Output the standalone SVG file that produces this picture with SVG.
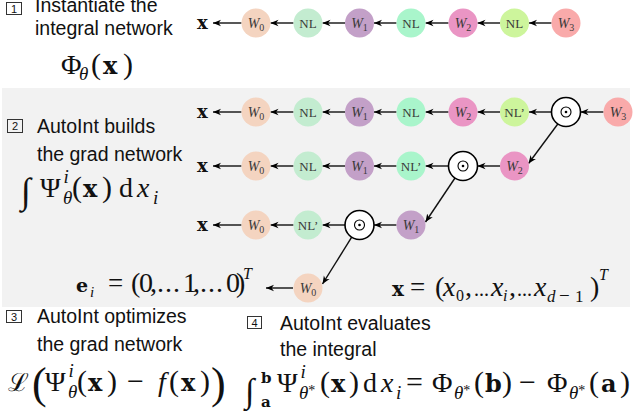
<svg xmlns="http://www.w3.org/2000/svg" width="633" height="417" viewBox="0 0 633 417">
<defs>
<marker id="ah" viewBox="0 0 10 10" refX="10" refY="5" markerWidth="8" markerHeight="8" markerUnits="userSpaceOnUse" orient="auto">
<path d="M0,0.8 L10,5 L0,9.2 L3,5 z" fill="#000"/>
</marker>
<style>
.lab{font-family:"Liberation Sans",Arial,sans-serif;font-size:19.5px;fill:#111}
.num{font-family:"Liberation Sans",Arial,sans-serif;font-size:11px;fill:#111;text-anchor:middle}
.box{fill:none;stroke:#333;stroke-width:1}
.m{font-family:"Liberation Serif","Times New Roman",serif;font-size:28px;fill:#111}
.bd{font-family:"DejaVu Serif",serif;font-weight:bold}
.i{font-style:italic}
.lbl{font-family:"Liberation Serif","Times New Roman",serif;font-size:14px;fill:#3a3a3a;text-anchor:middle}
.nl{font-size:13px}
.xl{font-family:"DejaVu Serif",serif;font-weight:bold;font-size:18px;fill:#111}
.c{stroke:#111;stroke-width:1.4;fill:none;marker-end:url(#ah)}
.od{fill:#fff;stroke:#000;stroke-width:1.6}
.odi{fill:none;stroke:#000;stroke-width:1.1}
.w0{fill:#f4d4c0}.nla{fill:#c3ecd0}.w1{fill:#c3a0c8}.nlb{fill:#a9f5cb}.w2{fill:#ea95c4}.nlc{fill:#cdf59c}.w3{fill:#f9aaaa}
</style>
</defs>
<rect x="0" y="0" width="633" height="417" fill="#fff"/>
<rect x="2" y="88" width="628" height="219" fill="#f2f2f2"/>

<!-- section texts -->
<g id="sec1">
<rect class="box" x="6.5" y="2.5" width="15" height="12"/>
<text class="num" x="14" y="12.5">1</text>
<text class="lab" x="35" y="12">Instantiate the</text>
<text class="lab" x="35" y="35">integral network</text>
<text class="m" y="74"><tspan x="61">Φ</tspan><tspan class="i" font-size="19" x="79" y="80">θ</tspan><tspan x="91" y="74" font-size="30">(</tspan><tspan class="bd" font-size="24" x="103">x</tspan><tspan x="123" font-size="30">)</tspan></text>
</g>
<g id="sec2">
<rect class="box" x="7.5" y="119.5" width="15" height="13"/>
<text class="num" x="15" y="130">2</text>
<text class="lab" x="37" y="133">AutoInt builds</text>
<text class="lab" x="37" y="161">the grad network</text>
<text class="m" y="197"><tspan x="21" font-size="36" y="203">∫</tspan><tspan x="40" y="197">Ψ</tspan><tspan class="i" font-size="19" x="63.5" y="183">i</tspan><tspan class="i" font-size="19" x="63" y="204">θ</tspan><tspan x="72" y="197" font-size="30">(</tspan><tspan class="bd" font-size="24" x="83">x</tspan><tspan x="102" font-size="30">)</tspan><tspan x="119">d</tspan><tspan class="i" x="137">x</tspan><tspan class="i" font-size="19" x="153" y="204">i</tspan></text>
</g>
<g id="sec3">
<rect class="box" x="6.5" y="310.5" width="15" height="12"/>
<text class="num" x="14" y="320.5">3</text>
<text class="lab" x="37" y="323">AutoInt optimizes</text>
<text class="lab" x="37" y="351">the grad network</text>
<text class="m" y="391"><tspan x="8" font-family="DejaVu Serif,serif" font-size="25">ℒ</tspan><tspan x="32" y="398" font-size="44">(</tspan><tspan x="45" y="391">Ψ</tspan><tspan class="i" font-size="19" x="68.5" y="377">i</tspan><tspan class="i" font-size="19" x="68" y="398">θ</tspan><tspan x="77" y="391" font-size="30">(</tspan><tspan class="bd" font-size="24" x="88">x</tspan><tspan x="107" font-size="30">)</tspan><tspan x="127" font-size="30">−</tspan><tspan class="i" x="158">f</tspan><tspan x="169" font-size="30">(</tspan><tspan class="bd" font-size="24" x="181">x</tspan><tspan x="200" font-size="30">)</tspan><tspan x="211" y="398" font-size="44">)</tspan></text>
</g>
<g id="sec4">
<rect class="box" x="247.5" y="316.5" width="14" height="12"/>
<text class="num" x="254.5" y="326.5">4</text>
<text class="lab" x="280" y="330">AutoInt evaluates</text>
<text class="lab" x="280" y="356">the integral</text>
<text class="m" y="392"><tspan x="245" font-size="34" y="402">∫</tspan><tspan class="bd" font-size="15" x="261" y="383">b</tspan><tspan class="bd" font-size="15" x="261" y="407">a</tspan><tspan x="277" y="392">Ψ</tspan><tspan class="i" font-size="19" x="300.5" y="378">i</tspan><tspan class="i" font-size="19" x="299" y="399">θ</tspan><tspan font-size="14" dy="-4">*</tspan><tspan x="320" y="392" font-size="30">(</tspan><tspan class="bd" font-size="24" x="331">x</tspan><tspan x="349" font-size="30">)</tspan><tspan x="363">d</tspan><tspan class="i" x="381">x</tspan><tspan class="i" font-size="19" x="396" y="399">i</tspan><tspan x="406" y="392" font-size="30">=</tspan><tspan x="432">Φ</tspan><tspan class="i" font-size="19" x="454" y="399">θ</tspan><tspan font-size="14" dy="-4">*</tspan><tspan x="474" y="392" font-size="30">(</tspan><tspan class="bd" font-size="24" x="485">b</tspan><tspan x="502" font-size="30">)</tspan><tspan x="519" font-size="30">−</tspan><tspan x="547">Φ</tspan><tspan class="i" font-size="19" x="569" y="399">θ</tspan><tspan font-size="14" dy="-4">*</tspan><tspan x="589" y="392" font-size="30">(</tspan><tspan class="bd" font-size="24" x="601">a</tspan><tspan x="620" font-size="30">)</tspan></text>
</g>

<!-- x labels and vectors -->
<g id="xlabels">
<text class="xl" x="197" y="29">x</text>
<text class="xl" x="197" y="118">x</text>
<text class="xl" x="197" y="172">x</text>
<text class="xl" x="197" y="231">x</text>
<text class="m" font-size="24" y="292"><tspan class="bd" font-size="19" x="76">e</tspan><tspan class="i" font-size="15" x="90" y="297">i</tspan><tspan x="108" y="292" font-size="27">=</tspan><tspan x="131">(</tspan><tspan x="139">0</tspan><tspan x="150">,</tspan><tspan x="157">.</tspan><tspan x="165">.</tspan><tspan x="173">.</tspan><tspan x="183">1</tspan><tspan x="193">,</tspan><tspan x="200">.</tspan><tspan x="208">.</tspan><tspan x="216">.</tspan><tspan x="226">0</tspan><tspan x="236">)</tspan><tspan class="i" font-size="16" x="243" y="279">T</tspan></text>
<text class="m" font-size="24" y="296"><tspan class="bd" font-size="20" x="392">x</tspan><tspan x="410" font-size="27">=</tspan><tspan x="435">(</tspan><tspan class="i" x="443">x</tspan><tspan font-size="16" x="456" y="301">0</tspan><tspan x="465" y="296">,</tspan><tspan x="474" font-size="20">...</tspan><tspan class="i" x="491">x</tspan><tspan class="i" font-size="16" x="503" y="301">i</tspan><tspan x="509" y="296">,</tspan><tspan x="517" font-size="20">...</tspan><tspan class="i" x="534">x</tspan><tspan class="i" font-size="17" x="547" y="302">d</tspan><tspan font-size="19" x="559">−</tspan><tspan font-size="17" x="575">1</tspan><tspan x="590" y="296">)</tspan><tspan class="i" font-size="16" x="599" y="280">T</tspan></text>
</g>

<!-- connectors -->
<g id="connectors">
<line class="c" x1="241.5" y1="23" x2="213" y2="23"/>
<line class="c" x1="293.5" y1="23" x2="270.5" y2="23"/>
<line class="c" x1="345" y1="23" x2="322.5" y2="23"/>
<line class="c" x1="396.5" y1="23" x2="374" y2="23"/>
<line class="c" x1="448.5" y1="23" x2="425.5" y2="23"/>
<line class="c" x1="500" y1="23" x2="477.5" y2="23"/>
<line class="c" x1="551.5" y1="23" x2="529" y2="23"/>

<line class="c" x1="241.5" y1="112" x2="213" y2="112"/>
<line class="c" x1="293.5" y1="112" x2="270.5" y2="112"/>
<line class="c" x1="345" y1="112" x2="322.5" y2="112"/>
<line class="c" x1="396.5" y1="112" x2="374" y2="112"/>
<line class="c" x1="448.5" y1="112" x2="425.5" y2="112"/>
<line class="c" x1="500" y1="112" x2="477.5" y2="112"/>
<line class="c" x1="551.5" y1="112" x2="529" y2="112"/>
<line class="c" x1="603.5" y1="112" x2="580.5" y2="112"/>
<line class="c" x1="557.8" y1="124" x2="528.5" y2="163.5"/>

<line class="c" x1="241.5" y1="166" x2="213" y2="166"/>
<line class="c" x1="293.5" y1="166" x2="270.5" y2="166"/>
<line class="c" x1="345" y1="166" x2="322.5" y2="166"/>
<line class="c" x1="396.5" y1="166" x2="374" y2="166"/>
<line class="c" x1="448.5" y1="166" x2="425.5" y2="166"/>
<line class="c" x1="500" y1="166" x2="477.5" y2="166"/>
<line class="c" x1="455" y1="178" x2="425.5" y2="222"/>

<line class="c" x1="241.5" y1="225" x2="213" y2="225"/>
<line class="c" x1="293.5" y1="225" x2="270.5" y2="225"/>
<line class="c" x1="345" y1="225" x2="322.5" y2="225"/>
<line class="c" x1="396.5" y1="225" x2="374" y2="225"/>
<line class="c" x1="351.7" y1="237.2" x2="322.5" y2="284"/>

<line class="c" x1="293" y1="288" x2="266" y2="288"/>
</g>

<!-- row 1 -->
<g id="r1-w0"><circle class="w0" cx="256" cy="23" r="14.5"/><text class="lbl" x="256" y="28"><tspan class="i">W</tspan><tspan font-size="10" dy="3">0</tspan></text></g>
<g id="r1-nl1"><circle class="nla" cx="308" cy="23" r="14.5"/><text class="lbl nl" x="308" y="27.5">NL</text></g>
<g id="r1-w1"><circle class="w1" cx="359.5" cy="23" r="14.5"/><text class="lbl" x="359.5" y="28"><tspan class="i">W</tspan><tspan font-size="10" dy="3">1</tspan></text></g>
<g id="r1-nl2"><circle class="nlb" cx="411" cy="23" r="14.5"/><text class="lbl nl" x="411" y="27.5">NL</text></g>
<g id="r1-w2"><circle class="w2" cx="463" cy="23" r="14.5"/><text class="lbl" x="463" y="28"><tspan class="i">W</tspan><tspan font-size="10" dy="3">2</tspan></text></g>
<g id="r1-nl3"><circle class="nlc" cx="514.5" cy="23" r="14.5"/><text class="lbl nl" x="514.5" y="27.5">NL</text></g>
<g id="r1-w3"><circle class="w3" cx="566" cy="23" r="14.5"/><text class="lbl" x="566" y="28"><tspan class="i">W</tspan><tspan font-size="10" dy="3">3</tspan></text></g>

<!-- row 2 -->
<g id="r2-w0"><circle class="w0" cx="256" cy="112" r="14.5"/><text class="lbl" x="256" y="117"><tspan class="i">W</tspan><tspan font-size="10" dy="3">0</tspan></text></g>
<g id="r2-nl1"><circle class="nla" cx="308" cy="112" r="14.5"/><text class="lbl nl" x="308" y="116.5">NL</text></g>
<g id="r2-w1"><circle class="w1" cx="359.5" cy="112" r="14.5"/><text class="lbl" x="359.5" y="117"><tspan class="i">W</tspan><tspan font-size="10" dy="3">1</tspan></text></g>
<g id="r2-nl2"><circle class="nlb" cx="411" cy="112" r="14.5"/><text class="lbl nl" x="411" y="116.5">NL</text></g>
<g id="r2-w2"><circle class="w2" cx="463" cy="112" r="14.5"/><text class="lbl" x="463" y="117"><tspan class="i">W</tspan><tspan font-size="10" dy="3">2</tspan></text></g>
<g id="r2-nl3"><circle class="nlc" cx="514.5" cy="112" r="14.5"/><text class="lbl nl" x="514.5" y="116.5">NL’</text></g>
<g id="r2-od"><circle class="od" cx="566" cy="112" r="14.5"/><circle class="odi" cx="566" cy="112" r="5"/><circle cx="566" cy="112" r="1.3" fill="#000"/></g>
<g id="r2-w3"><circle class="w3" cx="618" cy="112" r="14.5"/><text class="lbl" x="618" y="117"><tspan class="i">W</tspan><tspan font-size="10" dy="3">3</tspan></text></g>

<!-- row 3 -->
<g id="r3-w0"><circle class="w0" cx="256" cy="166" r="14.5"/><text class="lbl" x="256" y="171"><tspan class="i">W</tspan><tspan font-size="10" dy="3">0</tspan></text></g>
<g id="r3-nl1"><circle class="nla" cx="308" cy="166" r="14.5"/><text class="lbl nl" x="308" y="170.5">NL</text></g>
<g id="r3-w1"><circle class="w1" cx="359.5" cy="166" r="14.5"/><text class="lbl" x="359.5" y="171"><tspan class="i">W</tspan><tspan font-size="10" dy="3">1</tspan></text></g>
<g id="r3-nl2"><circle class="nlb" cx="411" cy="166" r="14.5"/><text class="lbl nl" x="411" y="170.5">NL’</text></g>
<g id="r3-od"><circle class="od" cx="463" cy="166" r="14.5"/><circle class="odi" cx="463" cy="166" r="5"/><circle cx="463" cy="166" r="1.3" fill="#000"/></g>
<g id="r3-w2"><circle class="w2" cx="514.5" cy="166" r="14.5"/><text class="lbl" x="514.5" y="171"><tspan class="i">W</tspan><tspan font-size="10" dy="3">2</tspan></text></g>

<!-- row 4 -->
<g id="r4-w0"><circle class="w0" cx="256" cy="225" r="14.5"/><text class="lbl" x="256" y="230"><tspan class="i">W</tspan><tspan font-size="10" dy="3">0</tspan></text></g>
<g id="r4-nl1"><circle class="nla" cx="308" cy="225" r="14.5"/><text class="lbl nl" x="308" y="229.5">NL’</text></g>
<g id="r4-od"><circle class="od" cx="359.5" cy="225" r="14.5"/><circle class="odi" cx="359.5" cy="225" r="5"/><circle cx="359.5" cy="225" r="1.3" fill="#000"/></g>
<g id="r4-w1"><circle class="w1" cx="411" cy="225" r="14.5"/><text class="lbl" x="411" y="230"><tspan class="i">W</tspan><tspan font-size="10" dy="3">1</tspan></text></g>

<!-- row 5 -->
<g id="r5-w0"><circle class="w0" cx="308" cy="288" r="14.5"/><text class="lbl" x="308" y="293"><tspan class="i">W</tspan><tspan font-size="10" dy="3">0</tspan></text></g>
</svg>
